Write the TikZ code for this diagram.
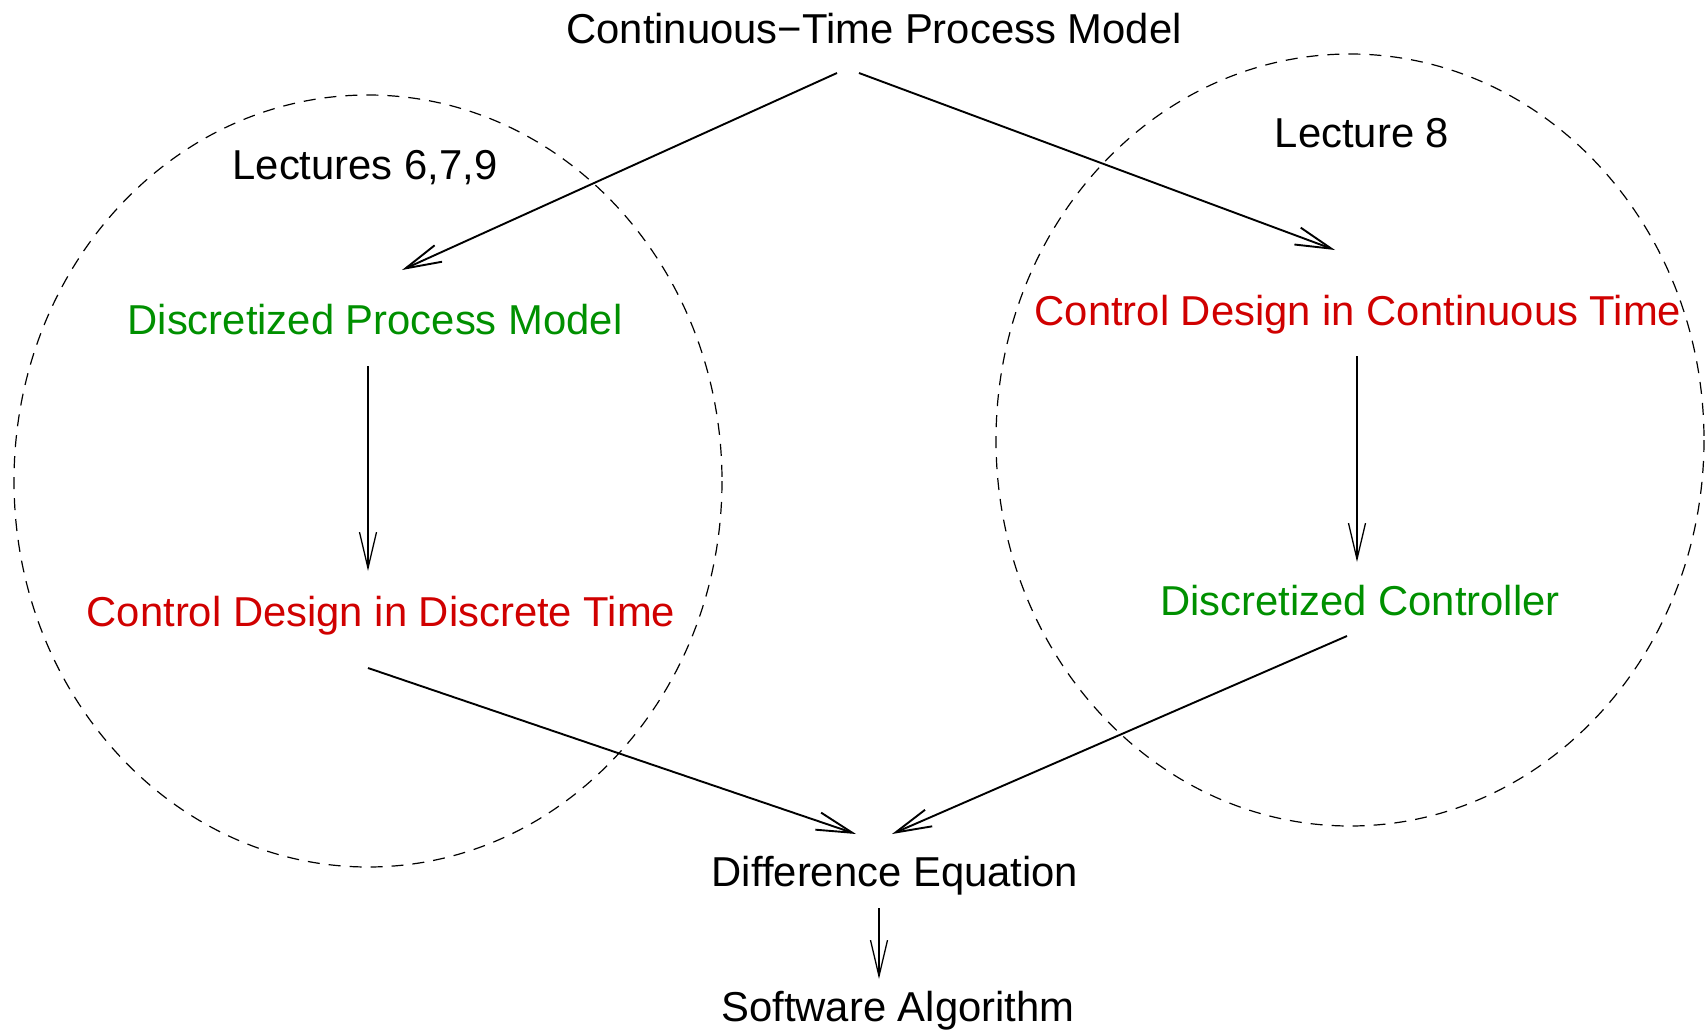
\documentclass[tikz,border=0pt]{standalone}
\usepackage{fontspec}
\setmainfont{Liberation Sans}
\usetikzlibrary{arrows.meta}
\definecolor{figgreen}{RGB}{0,144,0}
\definecolor{figred}{RGB}{208,0,0}
\begin{document}
\begin{tikzpicture}[x=0.5pt,y=-0.5pt,
  lbl/.style={anchor=base,inner sep=0pt,font=\fontsize{20.9}{24}\selectfont},
  grn/.style={lbl,text=figgreen},
  rd/.style={lbl,text=figred},
  zone/.style={draw,line width=0.6pt,dash pattern=on 6pt off 4.5pt},
  flow/.style={line width=0.95pt,-{Straight Barb[length=18pt,width=9pt,line width=0.95pt]}},
  vflow/.style={line width=0.65pt,-{Straight Barb[length=18pt,width=8.5pt,line width=0.65pt]}}]
\useasboundingbox (0,0) rectangle (1705,1033);
% zones
\draw[zone] (368,481) ellipse [x radius=354, y radius=386];
\draw[zone] (1350,440) ellipse [x radius=354, y radius=386];
% labels
\node[lbl] (title) at (874,43) {Continuous−Time Process Model};
\node[lbl] (lecL) at (365,179) {Lectures 6,7,9};
\node[lbl] (lecR) at (1362,147) {Lecture 8};
\node[grn] (dpm) at (375,334) {Discretized Process Model};
\node[rd] (cdd) at (381,626) {Control Design in Discrete Time};
\node[rd] (cdc) at (1358,325) {Control Design in Continuous Time};
\node[grn] (dc) at (1360,615) {Discretized Controller};
\node[lbl] (de) at (895,886) {Difference Equation};
\node[lbl] (sa) at (898,1021) {Software Algorithm};
% connector ends
\coordinate (t1) at (837,73);
\coordinate (t2) at (859,73);
\coordinate (dpmIn) at (402,270);
\coordinate (cdcIn) at (1335,250);
\coordinate (dpmOut) at (368,366);
\coordinate (cddIn) at (368,571);
\coordinate (cdcOut) at (1357,356);
\coordinate (dcIn) at (1357,562);
\coordinate (cddOut) at (368,668);
\coordinate (deInL) at (856,834);
\coordinate (dcOut) at (1347,636);
\coordinate (deInR) at (892,834);
\coordinate (deOut) at (879,908);
\coordinate (saIn) at (879,979);
% connectors
\draw[flow] (t1) -- (dpmIn);
\draw[flow] (t2) -- (cdcIn);
\draw[vflow] (dpmOut) -- (cddIn);
\draw[vflow] (cdcOut) -- (dcIn);
\draw[flow] (cddOut) -- (deInL);
\draw[flow] (dcOut) -- (deInR);
\draw[vflow] (deOut) -- (saIn);
\end{tikzpicture}
\end{document}
